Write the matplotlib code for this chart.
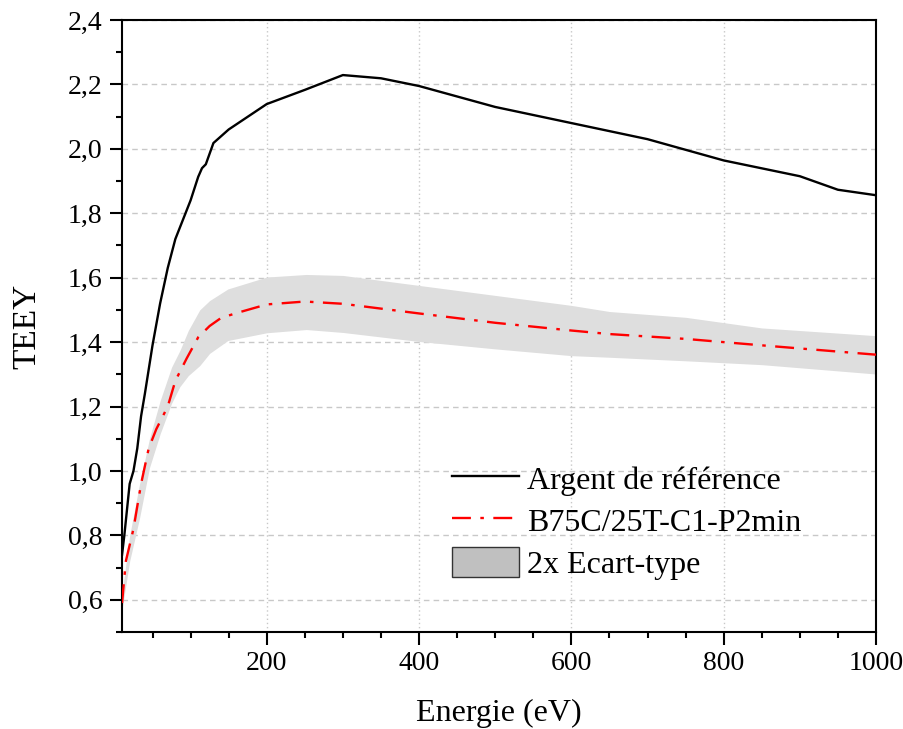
import matplotlib
matplotlib.use("Agg")
import matplotlib.pyplot as plt
from matplotlib.ticker import MultipleLocator, FuncFormatter
from matplotlib.patches import Patch
from matplotlib.lines import Line2D

# Argent de référence
x_ref = [10, 13, 20, 25, 30, 35, 40, 50, 60, 70, 80, 90, 100, 110, 115, 120, 130,
         150, 200, 250, 300, 350, 400, 500, 600, 650, 700, 800, 900, 950, 1000]
y_ref = [0.74, 0.80, 0.96, 1.00, 1.07, 1.17, 1.24, 1.39, 1.52, 1.63, 1.72, 1.78, 1.84,
         1.913, 1.94, 1.952, 2.018, 2.06, 2.139, 2.183, 2.229, 2.219, 2.195, 2.13,
         2.08, 2.055, 2.03, 1.964, 1.915, 1.873, 1.856]

# B75C/25T-C1-P2min
x_ech = [10, 15, 25, 35, 45, 55, 70, 80, 95, 110, 125, 140, 160, 200, 250, 300,
         400, 500, 600, 650, 750, 850, 1000]
y_ech = [0.59, 0.72, 0.82, 0.96, 1.07, 1.13, 1.20, 1.28, 1.35, 1.415, 1.45, 1.475,
         1.49, 1.517, 1.526, 1.519, 1.489, 1.46, 1.436, 1.425, 1.41, 1.39, 1.361]

# bande 2x écart-type
x_band = [10, 20, 33, 46, 60, 75, 86, 97, 112, 125, 149, 200, 252, 300, 400, 500,
          600, 650, 750, 850, 1000]
y_haut = [0.62, 0.80, 0.96, 1.10, 1.218, 1.322, 1.374, 1.436, 1.50, 1.529, 1.565,
          1.602, 1.61, 1.607, 1.576, 1.545, 1.514, 1.495, 1.477, 1.444, 1.42]
y_bas = [0.57, 0.72, 0.854, 1.01, 1.115, 1.21, 1.262, 1.296, 1.327, 1.365, 1.405,
         1.429, 1.439, 1.43, 1.402, 1.379, 1.358, 1.353, 1.342, 1.33, 1.301]

plt.rcParams['font.family'] = ['Liberation Serif', 'DejaVu Serif']

fig = plt.figure(figsize=(9.04, 7.29), dpi=100)
ax = fig.add_axes([0.135, 0.133, 0.834, 0.8396])

ax.fill_between(x_band, y_bas, y_haut, color='#dedede', linewidth=0, zorder=1)
ax.plot(x_ref, y_ref, color='black', linewidth=1.7, zorder=3)
ax.plot(x_ech, y_ech, color='red', linewidth=1.7, linestyle=(0, (8, 4, 1.5, 4)), zorder=3)

ax.set_xlim(10, 1000)
ax.set_ylim(0.5, 2.4)

ax.xaxis.set_major_locator(MultipleLocator(200))
ax.xaxis.set_minor_locator(MultipleLocator(50))
ax.yaxis.set_major_locator(MultipleLocator(0.2))
ax.yaxis.set_minor_locator(MultipleLocator(0.1))
ax.yaxis.set_major_formatter(FuncFormatter(lambda v, p: f"{v:.1f}".replace('.', ',')))

ax.tick_params(which='major', direction='out', length=9, width=1.5, labelsize=20,
               pad=5, top=False, right=False)
ax.tick_params(which='minor', direction='out', length=4.5, width=1.5,
               top=False, right=False)
for s in ax.spines.values():
    s.set_linewidth(1.5)

ax.grid(axis='y', which='major', color='#c8c8c8', linestyle=(0, (4, 3)), linewidth=1)
ax.grid(axis='x', which='major', color='#c8c8c8', linestyle=(0, (1, 2)), linewidth=1)
ax.set_axisbelow(True)

ax.set_xlabel("Energie (eV)", fontsize=23, labelpad=16)
ax.set_ylabel("TEEY", fontsize=24, labelpad=18)

handles = [
    Line2D([], [], color='black', linewidth=1.7),
    Line2D([], [], color='red', linewidth=1.7, linestyle=(0, (8, 4, 1.5, 4))),
    Patch(facecolor='#c0c0c0', edgecolor='#333333', linewidth=1),
]
labels = ["Argent de référence", "B75C/25T-C1-P2min", "2x Ecart-type"]
ax.legend(handles, labels, loc='upper left', bbox_to_anchor=(0.438, 0.277),
          frameon=False, fontsize=23, handlelength=2.1, handleheight=1.1,
          labelspacing=0.28, handletextpad=0.25, borderaxespad=0, borderpad=0)

fig.savefig("out.png", dpi=100)
